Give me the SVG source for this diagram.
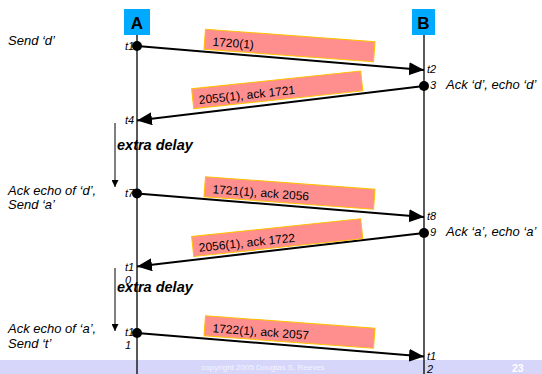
<svg xmlns="http://www.w3.org/2000/svg" width="542" height="374" viewBox="0 0 542 374">
<defs>
<marker id="ah" markerUnits="userSpaceOnUse" markerWidth="16" markerHeight="14" refX="15" refY="6.5" orient="auto">
<path d="M0,0 L15,6.5 L0,13 Z" fill="#000"/>
</marker>
<marker id="dh" markerUnits="userSpaceOnUse" markerWidth="8" markerHeight="8" refX="3.5" refY="7" orient="0">
<path d="M0,0 L7,0 L3.5,7 Z" fill="#000"/>
</marker>
</defs>
<style>
.lbl{font-family:"Liberation Sans",Arial,sans-serif;font-style:italic;font-size:13px;fill:#000}
.tm{font-family:"Liberation Sans",Arial,sans-serif;font-style:italic;font-size:11px;fill:#000}
.hd{font-family:"Liberation Sans",Arial,sans-serif;font-weight:bold;font-size:17px;fill:#000}
.dl{font-family:"Liberation Sans",Arial,sans-serif;font-weight:bold;font-style:italic;font-size:14.5px;fill:#000}
.seg rect{fill:#ff8f8f;stroke:#ffc000;stroke-width:1}
.seg text{font-family:"Liberation Sans",Arial,sans-serif;font-size:12px;fill:#000}
.msg{stroke:#000;stroke-width:2;fill:none;marker-end:url(#ah)}
.life{stroke:#000;stroke-width:1.3}
.dly{stroke:#000;stroke-width:1;marker-end:url(#dh)}
</style>
<rect width="542" height="374" fill="#fff"/>
<g id="footer">
<rect x="0" y="360" width="542" height="14" fill="#d6d6fa"/>
<text x="263" y="370" text-anchor="middle" font-family="Liberation Sans,Arial,sans-serif" font-size="8" fill="#f4f4ff">copyright 2005 Douglas S. Reeves</text>
<text x="512" y="372" font-family="Liberation Sans,Arial,sans-serif" font-size="10.5" font-weight="bold" fill="#fff">23</text>
</g>
<g id="nodeA">
<line class="life" x1="137" y1="35" x2="137" y2="374"/>
<rect x="124" y="9" width="26" height="26" fill="#00aaff"/>
<text class="hd" x="137" y="29" text-anchor="middle">A</text>
</g>
<g id="nodeB">
<line class="life" x1="424" y1="35" x2="424" y2="374"/>
<rect x="412" y="9" width="23" height="26" fill="#00aaff"/>
<text class="hd" x="423.5" y="29" text-anchor="middle">B</text>
</g>
<g id="labels">
<text class="lbl" x="8" y="45">Send ‘d’</text>
<text class="lbl" x="446" y="89">Ack ‘d’, echo ‘d’</text>
<text class="lbl" x="8" y="195">Ack echo of ‘d’,</text>
<text class="lbl" x="8" y="209">Send ‘a’</text>
<text class="lbl" x="446" y="236">Ack ‘a’, echo ‘a’</text>
<text class="lbl" x="8" y="333">Ack echo of ‘a’,</text>
<text class="lbl" x="8" y="348">Send ‘t’</text>
<text class="dl" x="117" y="150">extra delay</text>
<text class="dl" x="117" y="292">extra delay</text>
<text class="tm" x="125" y="50">t1</text>
<text class="tm" x="427" y="73">t2</text>
<text class="tm" x="430" y="89">3</text>
<text class="tm" x="125" y="124">t4</text>
<text class="tm" x="125" y="197">t7</text>
<text class="tm" x="427" y="220">t8</text>
<text class="tm" x="430" y="236">9</text>
<text class="tm" x="125" y="271">t1</text>
<text class="tm" x="125" y="284">0</text>
<text class="tm" x="125" y="336">t1</text>
<text class="tm" x="125" y="349">1</text>
<text class="tm" x="427" y="360">t1</text>
<text class="tm" x="427" y="373">2</text>
</g>
<g id="connectors">
<line class="msg" x1="137" y1="46" x2="424" y2="70"/>
<line class="msg" x1="424" y1="86" x2="137" y2="120.5"/>
<line class="msg" x1="137" y1="193.5" x2="424" y2="217"/>
<line class="msg" x1="424" y1="233" x2="137" y2="266.5"/>
<line class="msg" x1="137" y1="333" x2="424" y2="356.5"/>
<line class="dly" x1="115" y1="123" x2="115" y2="187"/>
<line class="dly" x1="115" y1="268" x2="115" y2="331"/>
<circle cx="137" cy="46" r="5"/>
<circle cx="424" cy="86" r="5"/>
<circle cx="137" cy="193.5" r="5"/>
<circle cx="424" cy="233" r="5"/>
<circle cx="137" cy="333" r="5"/>
</g>
<g id="seg1" class="seg" transform="translate(289.5,45.5) rotate(4.2)">
<rect x="-85" y="-10" width="170" height="20"/>
<text x="-77" y="6">1720(1)</text>
</g>
<g id="seg2" class="seg" transform="translate(277.2,89.8) rotate(-6)">
<rect x="-85" y="-10" width="170" height="20"/>
<text x="-79" y="6">2055(1), ack 1721</text>
</g>
<g id="seg3" class="seg" transform="translate(289.5,193) rotate(4.2)">
<rect x="-85" y="-10" width="170" height="20"/>
<text x="-77" y="6">1721(1), ack 2056</text>
</g>
<g id="seg4" class="seg" transform="translate(277.2,237.6) rotate(-6)">
<rect x="-85" y="-10" width="170" height="20"/>
<text x="-79" y="6">2056(1), ack 1722</text>
</g>
<g id="seg5" class="seg" transform="translate(289.5,332) rotate(4.2)">
<rect x="-85" y="-10" width="170" height="20"/>
<text x="-77" y="6">1722(1), ack 2057</text>
</g>
</svg>
